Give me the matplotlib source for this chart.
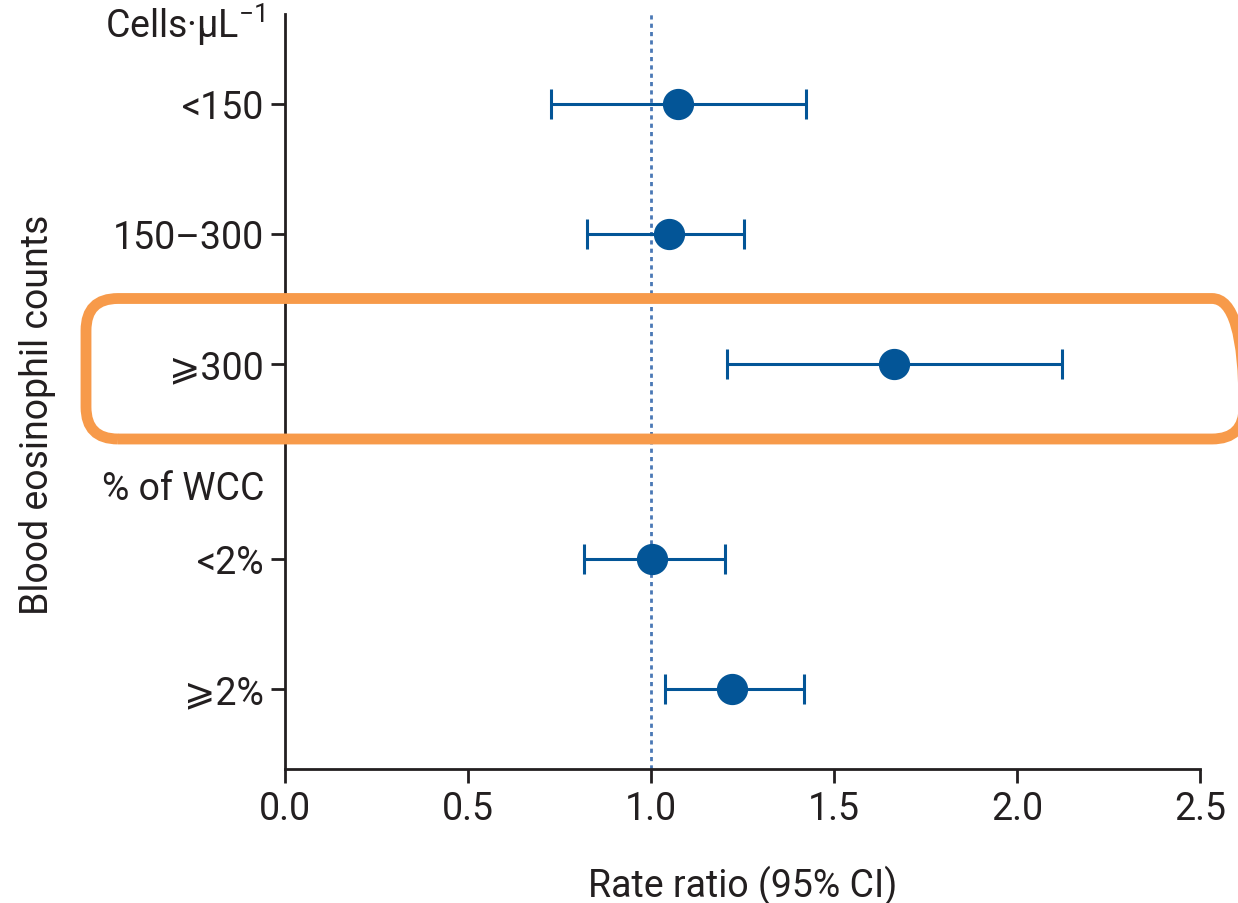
import matplotlib
matplotlib.use("Agg")
import matplotlib.pyplot as plt
from matplotlib.patches import FancyBboxPatch
import matplotlib.transforms as mtransforms

FONT = ['Roboto', 'DejaVu Sans']
plt.rcParams['font.family'] = FONT
plt.rcParams['mathtext.fontset'] = 'custom'
plt.rcParams['mathtext.rm'] = 'Roboto'
plt.rcParams['mathtext.it'] = 'Roboto'
plt.rcParams['mathtext.default'] = 'regular'

# Data
group1_title = "Cells·μL$^{-1}$"
group2_title = "% of WCC"
group1_labels = ["<150", "150–300", "⩾300"]
group1_rr = [1.075, 1.05, 1.664]
group1_lo = [0.726, 0.826, 1.208]
group1_hi = [1.424, 1.255, 2.122]
group2_labels = ["<2%", "⩾2%"]
group2_rr = [1.004, 1.222]
group2_lo = [0.818, 1.037]
group2_hi = [1.203, 1.418]
xticks = [0.0, 0.5, 1.0, 1.5, 2.0, 2.5]

labels = group1_labels + group2_labels
rr = group1_rr + group2_rr
lo = group1_lo + group2_lo
hi = group1_hi + group2_hi

# y positions: groups separated by an extra half step
n2 = len(group2_labels)
ypos = [n2 + 0.5 + (len(group1_labels) - 1 - i) for i in range(len(group1_labels))] + \
       [n2 - 1 - i for i in range(n2)]

fig = plt.figure(figsize=(12.38, 9.04), dpi=100)
ax = fig.add_axes([0.2302, 0.1482, 0.9693 - 0.2302, 0.9834 - 0.1482])

ink = "#231f20"
blue = "#035597"
FS = 27
ax.axvline(1.0, color="#4a78b5", linestyle=(0, (1.5, 1.5)), lw=2, zorder=1)

xerr = [[r - l for r, l in zip(rr, lo)], [h - r for r, h in zip(rr, hi)]]
ax.errorbar(rr, ypos, xerr=xerr, fmt='o', color=blue, ecolor=blue,
            markersize=21.5, elinewidth=2.2, capsize=11, capthick=2.2, zorder=3)

ax.set_xlim(0, 2.5)
ax.set_ylim(-0.615, 5.19)
ax.set_xticks(xticks)
ax.set_xticklabels([f"{t:.1f}" for t in xticks])
ax.set_yticks(ypos)
ax.set_yticklabels(labels)

for s in ["top", "right"]:
    ax.spines[s].set_visible(False)
for s in ["left", "bottom"]:
    ax.spines[s].set_linewidth(2)
    ax.spines[s].set_color(ink)

ax.tick_params(axis='both', length=10, width=2, color=ink, labelsize=FS,
               labelcolor=ink, pad=5)
for lab in ax.get_yticklabels() + ax.get_xticklabels():
    lab.set_family(FONT)

ax.set_xlabel("Rate ratio (95% CI)", fontsize=FS, color=ink)
ax.xaxis.set_label_coords(0.5, -0.127)
ax.set_ylabel("Blood eosinophil counts", fontsize=FS, color=ink)
ax.yaxis.set_label_coords(-0.25, 0.47)

trans = mtransforms.blended_transform_factory(ax.transAxes, ax.transData)
x_hdr = -(285 - 265) / 915
ax.text(x_hdr, max(ypos) + 0.615, group1_title, transform=trans, ha='right',
        va='center', fontsize=FS, color=ink, family=FONT)
ax.text(x_hdr, n2 - 1 + 0.54, group2_title, transform=trans, ha='right',
        va='center', fontsize=FS, color=ink, family=FONT)

# Highlight box around the >=300 row (in inches), right edge runs off the figure
box = FancyBboxPatch((0.86, 4.64), 12.44 - 0.86, 6.045 - 4.64,
                     boxstyle="round,pad=0,rounding_size=0.32",
                     transform=fig.dpi_scale_trans, fill=False,
                     edgecolor="#f79a4a", linewidth=7.8, clip_on=False, zorder=10)
fig.patches.append(box)

fig.savefig("out.png", dpi=100)
